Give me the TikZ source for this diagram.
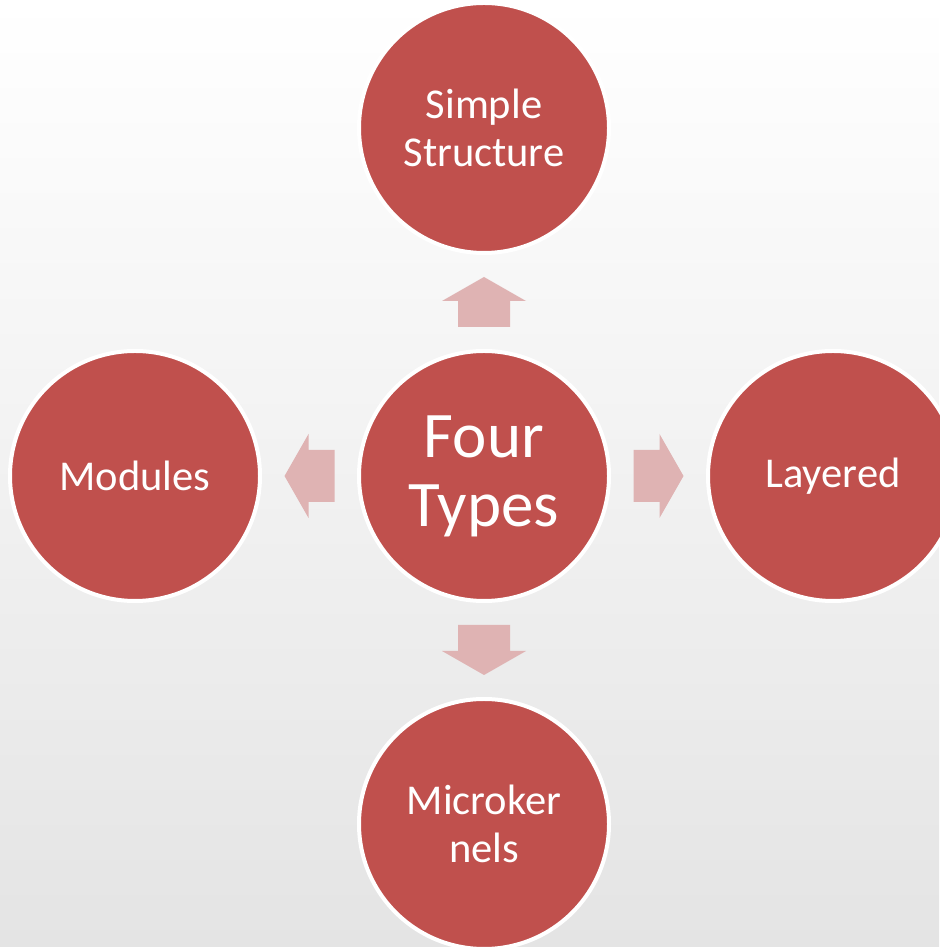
\documentclass[tikz,border=0pt]{standalone}
\usepackage{fontspec}
\setmainfont{Carlito}
\usetikzlibrary{calc}
\definecolor{circred}{HTML}{C0504D}
\definecolor{arrpink}{HTML}{DFB3B3}
\definecolor{bgbottom}{HTML}{E4E4E4}
\tikzset{
  bubble/.style={circle, fill=circred, draw=white, line width=4pt, minimum size=250pt, inner sep=0pt, text=white, align=center, font=\fontsize{42.5}{48}\selectfont},
  bigbubble/.style={bubble, font=\fontsize{65}{69}\selectfont},
  blockarrow/.style={fill=arrpink, draw=none}
}
\begin{document}
\begin{tikzpicture}[x=1pt,y=1pt]
\shade[top color=white, bottom color=bgbottom, draw=none] (0,0) rectangle (939,947);
\useasboundingbox (0,0) rectangle (939,947);
\node[bigbubble] (c) at (484,471) {Four\\Types};
\node[bubble] (t) at (484,819) {Simple\\Structure};
\node[bubble] (l) at (135,471) {Modules};
\node[bubble] (r) at (833,471) {Layered};
\node[bubble] (b) at (484,123) {Microker\\nels};
\coordinate (ua) at ($(c)!0.5!(t)$);
\coordinate (la) at ($(c)!0.5!(l)$);
\coordinate (ra) at ($(c)!0.5!(r)$);
\coordinate (da) at ($(c)!0.5!(b)$);
\foreach \p/\a in {ua/90, la/180, ra/0, da/270}{
  \fill[blockarrow, shift={(\p)}, rotate=\a]
    (-25,-26) -- (1,-26) -- (1,-42) -- (25,0) -- (1,42) -- (1,26) -- (-25,26) -- cycle;
}
\end{tikzpicture}
\end{document}
